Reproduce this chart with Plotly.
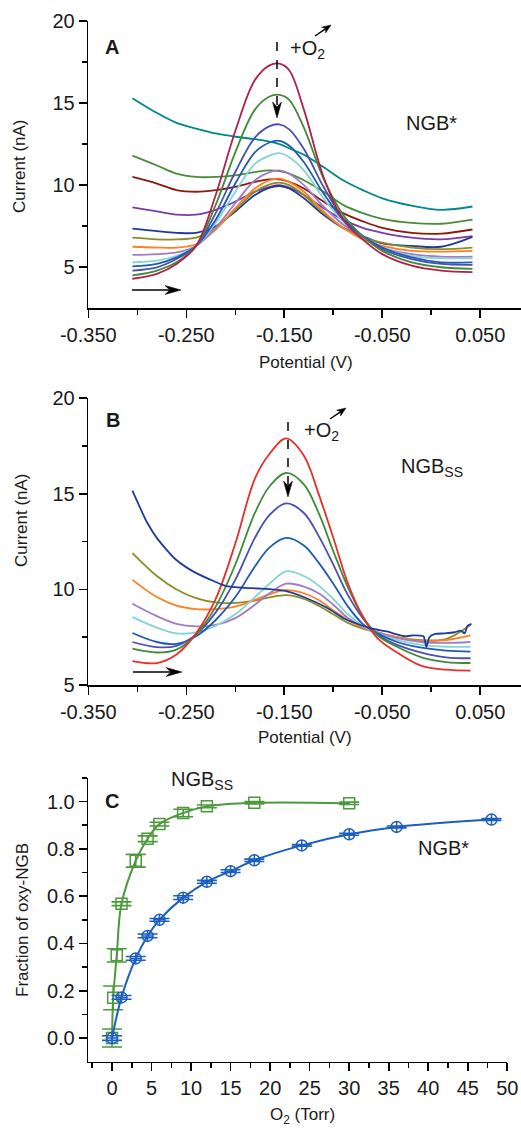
import math
import plotly.graph_objects as go

W, H = 521, 1130

# ---------------- Panel A data (NGB*) ----------------
A_POT = [-0.305, -0.28, -0.26, -0.24, -0.22, -0.20, -0.18, -0.165, -0.155, -0.145,
         -0.13, -0.11, -0.09, -0.07, -0.05, -0.02, 0.01, 0.042]
A_CRIMSON = [4.3, 4.6, 5.2, 6.3, 9.4, 13.3, 16.4, 17.3, 17.4, 17.0, 14.6, 10.5, 7.9, 6.7, 5.8, 5.1, 4.8, 4.7]
A_GREEN = [4.5, 4.8, 5.3, 6.3, 8.8, 12.0, 14.6, 15.4, 15.5, 15.2, 13.5, 10.4, 8.2, 6.9, 6.0, 5.3, 5.0, 4.9]
A_SLATE = [4.8, 5.0, 5.5, 6.3, 8.3, 10.8, 12.9, 13.6, 13.7, 13.4, 12.2, 9.9, 8.0, 6.9, 6.1, 5.5, 5.2, 5.15]
A_BLUE = [5.05, 5.2, 5.6, 6.3, 7.9, 10.1, 12.0, 12.6, 12.7, 12.4, 11.4, 9.5, 7.9, 6.9, 6.2, 5.6, 5.3, 5.3]
A_CYAN = [5.3, 5.4, 5.7, 6.3, 7.7, 9.6, 11.3, 11.8, 11.95, 11.7, 10.9, 9.2, 7.8, 6.9, 6.2, 5.7, 5.55, 5.55]
A_LAVENDER = [5.75, 5.8, 5.9, 6.3, 7.4, 8.9, 10.3, 10.8, 10.9, 10.7, 10.0, 8.7, 7.6, 6.8, 6.2, 5.8, 5.65, 5.65]
A_ORANGE = [6.25, 6.2, 6.2, 6.4, 7.3, 8.6, 9.8, 10.3, 10.4, 10.2, 9.6, 8.4, 7.4, 6.7, 6.3, 6.0, 5.95, 6.0]
A_OLIVE = [6.8, 6.7, 6.7, 6.8, 7.4, 8.5, 9.6, 10.05, 10.15, 10.0, 9.4, 8.3, 7.4, 6.8, 6.5, 6.2, 6.1, 6.2]
A_NAVY = [7.35, 7.2, 7.1, 7.1, 7.5, 8.4, 9.4, 9.85, 9.95, 9.8, 9.2, 8.2, 7.4, 6.9, 6.45, 6.3, 6.25, 6.85]
A_PURPLE = [8.65, 8.4, 8.2, 8.2, 8.5, 9.0, 9.6, 9.9, 10.0, 9.85, 9.4, 8.6, 7.9, 7.4, 7.1, 6.8, 6.7, 6.9]
A_BROWN = [10.5, 10.1, 9.7, 9.6, 9.7, 9.9, 10.2, 10.35, 10.35, 10.2, 9.8, 9.0, 8.3, 7.8, 7.4, 7.1, 7.05, 7.3]
A_GREEN2 = [11.8, 11.2, 10.7, 10.5, 10.5, 10.6, 10.8, 10.9, 10.85, 10.7, 10.3, 9.6, 8.8, 8.3, 7.95, 7.7, 7.65, 7.9]
A_TEAL = [15.3, 14.4, 13.8, 13.45, 13.15, 12.95, 12.8, 12.65, 12.5, 12.25, 11.85, 11.1, 10.3, 9.7, 9.2, 8.75, 8.5, 8.7]

# ---------------- Panel B data (NGB_SS) ----------------
B_POT = [-0.305, -0.28, -0.26, -0.24, -0.22, -0.20, -0.18, -0.165, -0.148, -0.13,
         -0.115, -0.10, -0.085, -0.07, -0.055, -0.035, -0.01, 0.015, 0.04]
B_RED = [6.25, 6.15, 6.6, 7.7, 9.5, 12.4, 15.8, 17.1, 17.9, 17.0, 15.0, 12.7, 10.3, 8.6, 7.45, 6.7, 6.0, 5.8, 5.75]
B_GREEN = [6.9, 6.7, 6.85, 7.65, 9.1, 11.3, 14.0, 15.4, 16.1, 15.5, 14.0, 12.0, 10.1, 8.6, 7.6, 7.0, 6.45, 6.2, 6.15]
B_SLATE = [7.25, 6.98, 7.05, 7.65, 8.8, 10.5, 12.7, 13.9, 14.5, 14.0, 12.8, 11.3, 9.7, 8.5, 7.65, 7.1, 6.7, 6.45, 6.4]
B_BLUE = [7.72, 7.25, 7.15, 7.55, 8.4, 9.6, 11.2, 12.2, 12.7, 12.3, 11.4, 10.3, 9.1, 8.2, 7.7, 7.25, 6.95, 6.8, 6.75]
B_CYAN = [8.55, 8.0, 7.7, 7.75, 8.1, 8.7, 9.6, 10.3, 10.95, 10.7, 10.2, 9.5, 8.7, 8.1, 7.7, 7.35, 7.1, 7.0, 7.0]
B_LAVENDER = [9.25, 8.6, 8.2, 8.07, 8.15, 8.5, 9.2, 9.8, 10.3, 10.15, 9.8, 9.2, 8.5, 8.05, 7.75, 7.45, 7.25, 7.2, 7.25]
B_ORANGE = [10.5, 9.6, 9.15, 8.97, 8.97, 9.1, 9.45, 9.75, 9.96, 9.8, 9.45, 8.9, 8.4, 8.0, 7.75, 7.5, 7.3, 7.35, 7.6]
B_OLIVE = [11.9, 10.7, 10.0, 9.55, 9.32, 9.3, 9.42, 9.58, 9.7, 9.5, 9.15, 8.7, 8.25, 7.95, 7.75, 7.5, 7.35, 7.4, 8.15]
B_NAVY_POT = [-0.305, -0.29, -0.279, -0.261, -0.244, -0.225, -0.21, -0.19, -0.177, -0.149, -0.129,
              -0.105, -0.088, -0.07, -0.059, -0.045, -0.037, -0.027, -0.018, -0.008, -0.005, -0.002,
              0.004, 0.014, 0.024, 0.03, 0.034, 0.037, 0.041]
B_NAVY = [15.17, 13.5, 12.62, 11.58, 10.97, 10.5, 10.19, 10.08, 10.05, 9.93, 9.58,
          9.0, 8.45, 8.1, 7.93, 7.8, 7.67, 7.55, 7.6, 7.55, 6.98, 7.5,
          7.67, 7.7, 7.76, 7.85, 7.7, 8.1, 8.2]

# ---------------- Panel C data ----------------
C_SS_O2 = [0, 0.15, 0.6, 1.2, 3, 4.5, 6, 9, 12, 18, 30]
C_SS_FRAC = [0.0, 0.17, 0.35, 0.568, 0.75, 0.843, 0.905, 0.952, 0.98, 0.995, 0.993]
C_SS_ERR = [0.038, 0.05, 0.028, 0.008, 0.027, 0.012, 0.008, 0.016, 0.006, 0.005, 0.005]
C_ST_O2 = [0, 1.2, 3, 4.5, 6, 9, 12, 15, 18, 24, 30, 36, 48]
C_ST_FRAC = [0.0, 0.172, 0.337, 0.432, 0.5, 0.594, 0.661, 0.706, 0.752, 0.815, 0.862, 0.893, 0.924]
C_ST_ERR = [0.01, 0.008, 0.008, 0.008, 0.006, 0.008, 0.006, 0.006, 0.005, 0.004, 0.004, 0.004, 0.004]

# ticks
POT_TICKS = [-0.35, -0.25, -0.15, -0.05, 0.05]
POT_TICKTEXT = ["-0.350", "-0.250", "-0.150", "-0.050", "0.050"]
POT_MINOR = [-0.30, -0.20, -0.10, 0.0]
CUR_TICKS = [5, 10, 15, 20]
CUR_MINOR = [7.5, 12.5, 17.5]
FRAC_TICKS = [0.0, 0.2, 0.4, 0.6, 0.8, 1.0]
FRAC_TICKTEXT = ["0.0", "0.2", "0.4", "0.6", "0.8", "1.0"]
FRAC_MINOR = [0.1, 0.3, 0.5, 0.7, 0.9, 1.1]
O2_TICKS = [0, 5, 10, 15, 20, 25, 30, 35, 40, 45, 50]
O2_MINOR = [-2.5, 2.5, 7.5, 12.5, 17.5, 22.5, 27.5, 32.5, 37.5, 42.5, 47.5]


def px(x):
    return x / W


def py(y):
    return 1 - y / H


FONT = "Liberation Sans, Arial, sans-serif"
TXT = "#1a1a1a"

fig = go.Figure()

A_SERIES = [
    (A_TEAL, "#00878C"), (A_GREEN2, "#4A8B3C"), (A_BROWN, "#8B1A0E"), (A_PURPLE, "#7A3BA8"),
    (A_NAVY, "#203C96"), (A_OLIVE, "#8C8C2A"), (A_ORANGE, "#FF7F1E"), (A_LAVENDER, "#A27BC8"),
    (A_CYAN, "#86D3D6"), (A_BLUE, "#1F5BB5"), (A_SLATE, "#4B4FB0"), (A_GREEN, "#3F8B38"),
    (A_CRIMSON, "#B11F4A"),
]
for ys, col in A_SERIES:
    fig.add_trace(go.Scatter(x=A_POT, y=ys, mode="lines", line=dict(color=col, width=1.8, shape="spline"),
                             xaxis="x", yaxis="y", showlegend=False))

B_SERIES = [
    (B_OLIVE, "#8C8C2A"), (B_ORANGE, "#FF7F1E"), (B_LAVENDER, "#A27BC8"), (B_CYAN, "#86D3D6"),
    (B_BLUE, "#1F5BB5"), (B_SLATE, "#4B4FB0"), (B_GREEN, "#3F8B38"), (B_RED, "#E8302A"),
]
for ys, col in B_SERIES:
    fig.add_trace(go.Scatter(x=B_POT, y=ys, mode="lines", line=dict(color=col, width=1.8, shape="spline"),
                             xaxis="x2", yaxis="y2", showlegend=False))
fig.add_trace(go.Scatter(x=B_NAVY_POT, y=B_NAVY, mode="lines",
                         line=dict(color="#203C96", width=1.8, shape="spline", smoothing=0.6),
                         xaxis="x2", yaxis="y2", showlegend=False))

# Panel C
fig.add_trace(go.Scatter(x=C_SS_O2, y=C_SS_FRAC, mode="lines+markers",
                         line=dict(color="#4C9A3C", width=2, shape="spline"),
                         marker=dict(symbol="square-open", size=11, color="#4C9A3C", line=dict(width=1.5)),
                         error_y=dict(type="data", array=C_SS_ERR, width=10, thickness=1.6, color="#4C9A3C"),
                         xaxis="x3", yaxis="y3", showlegend=False))
fig.add_trace(go.Scatter(x=C_ST_O2, y=C_ST_FRAC, mode="lines+markers",
                         line=dict(color="#1C5FC0", width=2, shape="spline"),
                         marker=dict(symbol="circle-cross-open", size=11, color="#1C5FC0", line=dict(width=1.5)),
                         error_y=dict(type="data", array=C_ST_ERR, width=10, thickness=1.6, color="#1C5FC0"),
                         xaxis="x3", yaxis="y3", showlegend=False))

tickfont = dict(family=FONT, size=20, color=TXT)
common = dict(showline=True, linecolor="black", linewidth=1.6, ticks="outside", ticklen=8, tickwidth=1.6,
              tickcolor="black", showgrid=False, zeroline=False, tickfont=tickfont, tickmode="array",
              automargin=False)
minor = dict(ticks="outside", ticklen=5, tickwidth=1.6, tickcolor="black", showgrid=False, tickmode="array")

xa_range = [-0.35, -0.35 + (W - 88.3) / 980]
fig.update_layout(
    template="none",
    width=W, height=H, margin=dict(l=0, r=0, t=0, b=0, autoexpand=False),
    paper_bgcolor="white", plot_bgcolor="white",
    xaxis=dict(domain=[px(88.3), 1], range=xa_range, anchor="y", tickvals=POT_TICKS, ticktext=POT_TICKTEXT,
               minor=dict(tickvals=POT_MINOR, **minor), **common),
    yaxis=dict(domain=[py(308.3), py(21)], range=[2.5, 20], anchor="x", tickvals=CUR_TICKS,
               minor=dict(tickvals=CUR_MINOR, **minor), **common),
    xaxis2=dict(domain=[px(88.3), 1], range=xa_range, anchor="y2", tickvals=POT_TICKS, ticktext=POT_TICKTEXT,
                minor=dict(tickvals=POT_MINOR, **minor), **common),
    yaxis2=dict(domain=[py(685), py(398.3)], range=[5, 20], anchor="x2", tickvals=CUR_TICKS,
                minor=dict(tickvals=CUR_MINOR, **minor), **common),
    xaxis3=dict(domain=[px(88.3), px(507.3)], range=[-3, 50], anchor="y3", tickvals=O2_TICKS,
                minor=dict(tickvals=O2_MINOR, **minor), **common),
    yaxis3=dict(domain=[py(1061.7), py(778)], range=[-0.1, 1.1], anchor="x3", tickvals=FRAC_TICKS,
                ticktext=FRAC_TICKTEXT, minor=dict(tickvals=FRAC_MINOR, **minor), **common),
)


def label(x, y, text, size=20, angle=0, bold=False):
    t = f"<b>{text}</b>" if bold else text
    fig.add_annotation(x=px(x), y=py(y), xref="paper", yref="paper", text=t, showarrow=False,
                       textangle=angle, xanchor="center", yanchor="middle",
                       font=dict(family=FONT, size=size, color=TXT))


def arrow(hx, hy, tx, ty, hl=12.0, hw=4.5, dash="solid"):
    """Arrow drawn as shapes: shaft line + filled stealth head (pixel coords)."""
    dx, dy = hx - tx, hy - ty
    n = math.hypot(dx, dy)
    ux, uy = dx / n, dy / n
    vx, vy = -uy, ux
    bx, by = hx - ux * hl, hy - uy * hl
    nx, ny = hx - ux * hl * 0.7, hy - uy * hl * 0.7
    fig.add_shape(type="line", xref="paper", yref="paper", x0=px(tx), y0=py(ty), x1=px(nx), y1=py(ny),
                  line=dict(color="black", width=1.5, dash=dash))
    pts = [(hx, hy), (bx + vx * hw, by + vy * hw), (nx, ny), (bx - vx * hw, by - vy * hw)]
    path = "M " + " L ".join(f"{px(a):.5f},{py(b):.5f}" for a, b in pts) + " Z"
    fig.add_shape(type="path", xref="paper", yref="paper", path=path,
                  fillcolor="black", line=dict(color="black", width=0.5))


# Panel A texts
label(112, 47, "A", 20, bold=True)
label(307, 50, "+O<sub>2</sub>", 20)
label(431, 123, "NGB*", 20)
label(20, 166, "Current (nA)", 17, angle=-90)
label(306, 362, "Potential (V)", 17)
arrow(277, 118, 277, 42, hl=16, hw=4.5, dash="dash")
arrow(331, 25, 315, 36, hl=9, hw=3.5)
arrow(181, 290, 132, 290, hl=16, hw=4.5)

# Panel B texts
label(113, 420, "B", 20, bold=True)
label(321, 431, "+O<sub>2</sub>", 20)
label(432, 467, "NGB<sub>SS</sub>", 20)
label(21, 520, "Current (nA)", 17, angle=-90)
label(305, 738, "Potential (V)", 17)
arrow(288, 497, 288, 422, hl=16, hw=4.5, dash="dash")
arrow(346, 408, 330, 419, hl=9, hw=3.5)
arrow(182, 672, 133, 672, hl=16, hw=4.5)

# Panel C texts
label(112, 801, "C", 20, bold=True)
label(202, 780, "NGB<sub>SS</sub>", 20)
label(443, 848, "NGB*", 20)
label(22, 920, "Fraction of oxy-NGB", 17, angle=-90)
label(302, 1116, "O<sub>2</sub> (Torr)", 17)

fig.write_html("out.html", config={"displayModeBar": False, "staticPlot": True},
               post_script="document.body.style.margin='0';document.body.style.overflow='hidden';")
